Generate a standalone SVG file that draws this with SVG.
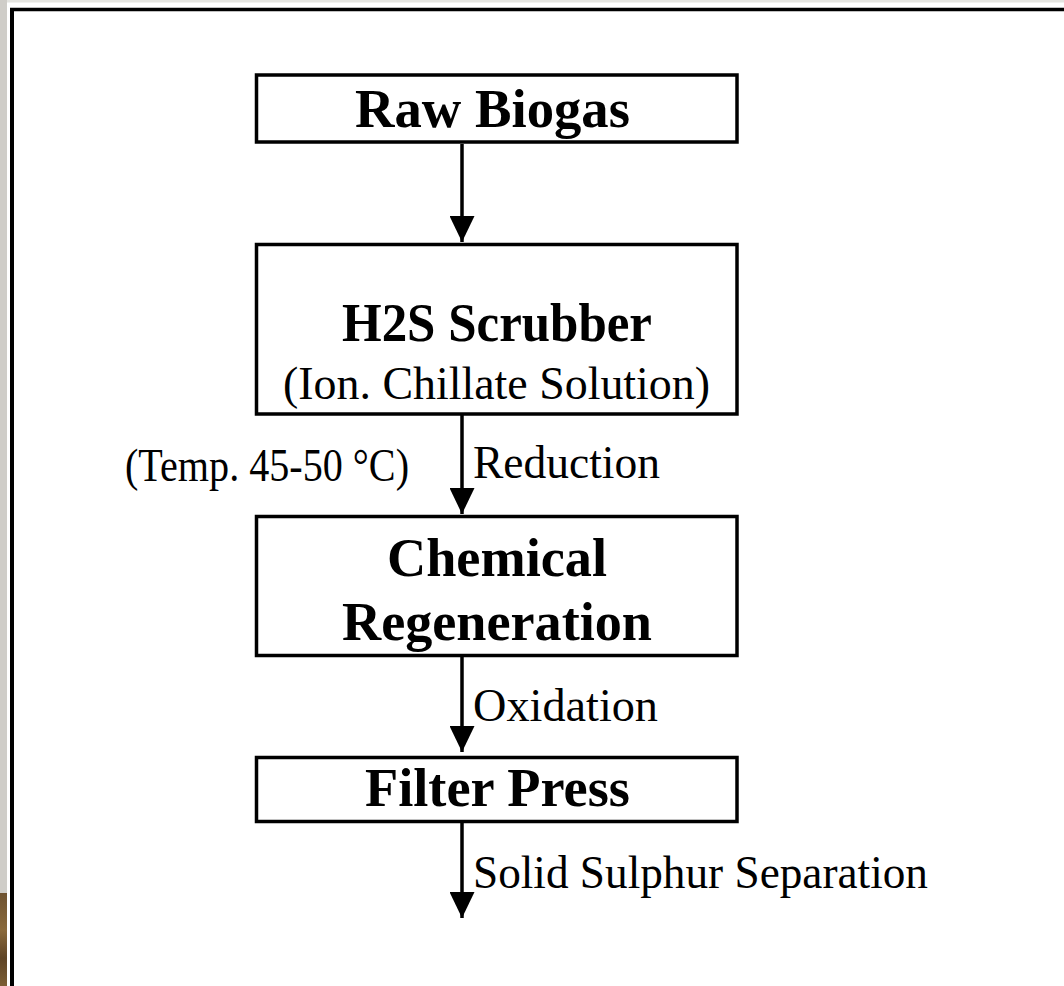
<svg xmlns="http://www.w3.org/2000/svg" width="1064" height="986" viewBox="0 0 1064 986">
  <style>
    .box { fill: #ffffff; stroke: #000000; stroke-width: 3.5; }
    .conn { stroke: #000000; stroke-width: 3.5; fill: none; }
    .bold { font-family: "Liberation Serif", "Times New Roman", serif; font-weight: bold; font-size: 54px; fill: #000000; }
    .reg { font-family: "Liberation Serif", "Times New Roman", serif; font-size: 46px; fill: #000000; }
  </style>
  <defs>
    <marker id="arrow" markerUnits="userSpaceOnUse" markerWidth="26" markerHeight="25" viewBox="0 0 26 25" refX="26" refY="12.5" orient="auto">
      <path d="M0,0 L26,12.5 L0,25 Z" fill="#000000"/>
    </marker>
    <linearGradient id="wood" x1="0" y1="0" x2="0" y2="1">
      <stop offset="0" stop-color="#6e5230"/>
      <stop offset="0.4" stop-color="#8a6a3c"/>
      <stop offset="0.7" stop-color="#5e4426"/>
      <stop offset="1" stop-color="#7c5e34"/>
    </linearGradient>
  </defs>

  <!-- page background and frame -->
  <rect x="0" y="0" width="1064" height="986" fill="#ffffff"/>
  <rect x="0" y="0" width="1064" height="2.5" fill="#e4e4e0"/>
  <rect x="0" y="0" width="7" height="893" fill="#cfcdc8"/>
  <rect x="0" y="893" width="7" height="93" fill="url(#wood)"/>
  <line x1="12" y1="8" x2="12" y2="986" stroke="#000000" stroke-width="4"/>
  <line x1="10" y1="9.5" x2="1064" y2="9.5" stroke="#000000" stroke-width="3.5"/>

  <!-- connectors -->
  <g id="connectors">
    <line class="conn" x1="462" y1="144" x2="462" y2="242" marker-end="url(#arrow)"/>
    <line class="conn" x1="462" y1="415" x2="462" y2="514" marker-end="url(#arrow)"/>
    <line class="conn" x1="462" y1="657" x2="462" y2="752" marker-end="url(#arrow)"/>
    <line class="conn" x1="462" y1="823" x2="462" y2="918" marker-end="url(#arrow)"/>
    <text class="reg" x="473" y="478" textLength="187" lengthAdjust="spacingAndGlyphs">Reduction</text>
    <text class="reg" x="125" y="481" textLength="284" lengthAdjust="spacingAndGlyphs">(Temp. 45-50 °C)</text>
    <text class="reg" x="473" y="721" textLength="185" lengthAdjust="spacingAndGlyphs">Oxidation</text>
    <text class="reg" x="473" y="888" textLength="455" lengthAdjust="spacingAndGlyphs">Solid Sulphur Separation</text>
  </g>

  <g id="raw-biogas">
    <rect class="box" x="256.5" y="75" width="480.5" height="67"/>
    <text class="bold" x="355" y="127" textLength="275" lengthAdjust="spacingAndGlyphs">Raw Biogas</text>
  </g>

  <g id="h2s-scrubber">
    <rect class="box" x="256.5" y="244.5" width="480.5" height="169.5"/>
    <text class="bold" x="342" y="341" textLength="310" lengthAdjust="spacingAndGlyphs">H2S Scrubber</text>
    <text class="reg" x="283" y="399" textLength="427" lengthAdjust="spacingAndGlyphs">(Ion. Chillate Solution)</text>
  </g>

  <g id="chemical-regeneration">
    <rect class="box" x="256.5" y="516.5" width="480.5" height="139"/>
    <text class="bold" x="387" y="576" textLength="220" lengthAdjust="spacingAndGlyphs">Chemical</text>
    <text class="bold" x="342" y="640" textLength="310" lengthAdjust="spacingAndGlyphs">Regeneration</text>
  </g>

  <g id="filter-press">
    <rect class="box" x="256.5" y="757.5" width="480.5" height="64"/>
    <text class="bold" x="365" y="806" textLength="265" lengthAdjust="spacingAndGlyphs">Filter Press</text>
  </g>
</svg>
